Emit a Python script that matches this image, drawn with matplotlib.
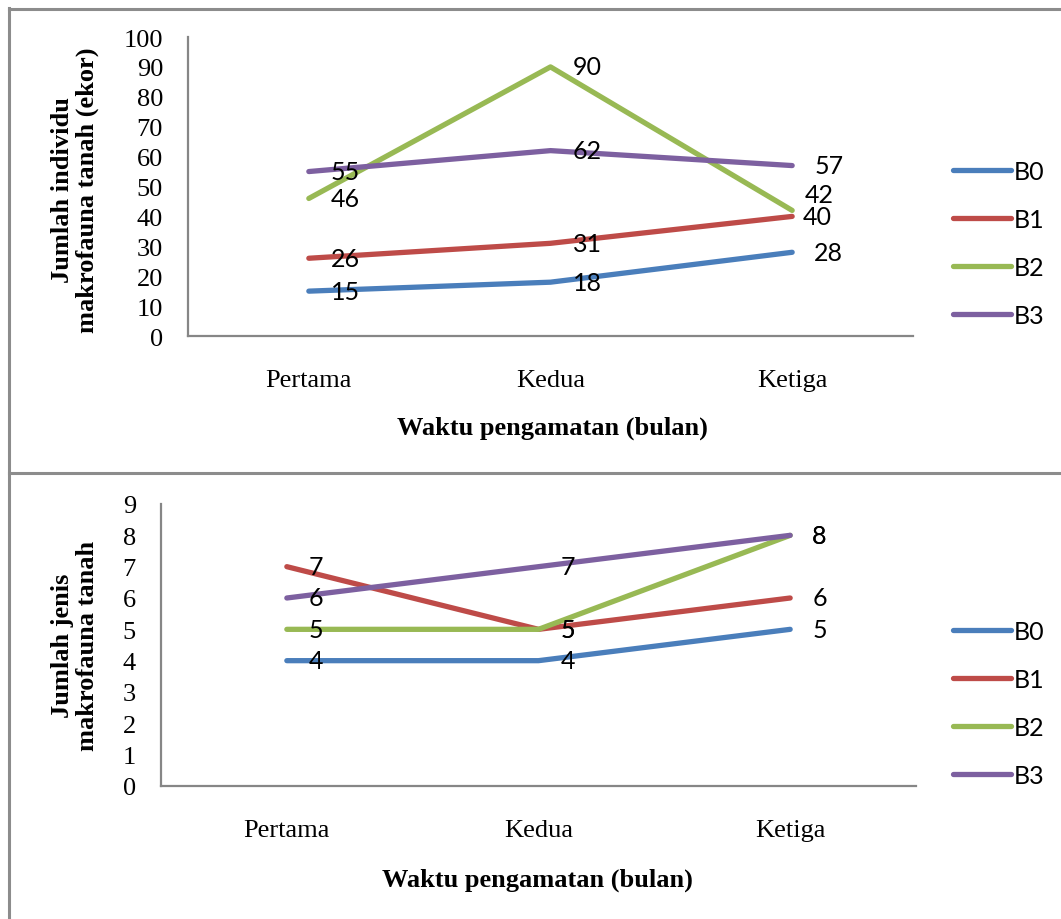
import matplotlib.pyplot as plt
from matplotlib.lines import Line2D

months = ['Pertama', 'Kedua', 'Ketiga']
series = ['B0', 'B1', 'B2', 'B3']
colors = ['#4A7EBB', '#BE4B48', '#98B954', '#7D60A0']

# jumlah individu (ekor)
individu_b0 = [15, 18, 28]
individu_b1 = [26, 31, 40]
individu_b2 = [46, 90, 42]
individu_b3 = [55, 62, 57]

# jumlah jenis
jenis_b0 = [4, 4, 5]
jenis_b1 = [7, 5, 6]
jenis_b2 = [5, 5, 8]
jenis_b3 = [6, 7, 8]

individu = [individu_b0, individu_b1, individu_b2, individu_b3]
jenis = [jenis_b0, jenis_b1, jenis_b2, jenis_b3]

W, H = 1061, 920
fig = plt.figure(figsize=(W / 100, H / 100), dpi=100)

serif = 'Liberation Serif'
sans = 'Lato'
fs = 19      # serif text (ticks, titles)
fs_lab = 18  # data labels and legend


def px_axes(left, right, top, bottom):
    return fig.add_axes([left / W, 1 - bottom / H, (right - left) / W, (bottom - top) / H])


def draw_panel(ax, data, ymax, step, label_fix, xlab_y, xlab_x, ylab, ylab_y, leg_y):
    x = range(len(months))
    for name, vals, c in zip(series, data, colors):
        ax.plot(x, vals, color=c, lw=3.8, solid_capstyle='round',
                solid_joinstyle='round', label=name)
    for si, vals in enumerate(data):
        for i, v in enumerate(vals):
            dx, dy = label_fix.get((si, i), (22, 0))
            ax.annotate(str(v), (i, v), xytext=(dx, dy), textcoords='offset pixels',
                        ha='left', va='center', fontsize=fs_lab, family=sans)
    ax.set_xlim(-0.5, len(months) - 0.5)
    ax.set_ylim(0, ymax)
    ax.set_yticks(range(0, ymax + 1, step))
    ax.set_xticks(list(x))
    ax.set_xticklabels(months)
    for s in ['top', 'right']:
        ax.spines[s].set_visible(False)
    for s in ['left', 'bottom']:
        ax.spines[s].set_color('#868686')
        ax.spines[s].set_linewidth(1.6)
    ax.tick_params(length=0, labelsize=fs)
    ax.tick_params(axis='y', pad=18)
    ax.tick_params(axis='x', pad=24)
    for t in ax.get_xticklabels() + ax.get_yticklabels():
        t.set_family(serif)
    fig.text(xlab_x / W, 1 - xlab_y / H, 'Waktu pengamatan (bulan)', ha='center',
             va='center', fontsize=fs, family=serif, fontweight='bold')
    fig.text(75 / W, 1 - ylab_y / H, ylab, rotation=90, ha='center', va='center',
             multialignment='center', fontsize=fs, family=serif, fontweight='bold',
             linespacing=1.12)
    ax.legend(loc='center left', bbox_to_anchor=(953 / W, 1 - leg_y / H),
              bbox_transform=fig.transFigure, frameon=False, borderpad=0,
              borderaxespad=0, handlelength=2.3, handletextpad=0.15,
              labelspacing=1.0, prop={'family': sans, 'size': fs_lab})


ax1 = px_axes(188, 913, 38, 337)
draw_panel(ax1, individu, 100, 10, {(2, 2): (13, 16), (1, 2): (11, 0)},
           428, 552, 'Jumlah individu\nmakrofauna tanah (ekor)', 190, 244)

ax2 = px_axes(161, 916, 505, 787)
draw_panel(ax2, jenis, 9, 1, {}, 880, 537, 'Jumlah jenis\nmakrofauna tanah', 646, 704)

# table-like frame around the two charts
grey = '#8C8C8C'
fig.add_artist(Line2D([9 / W, 9 / W], [0, 1 - 9 / H], color=grey, lw=2.2))
fig.add_artist(Line2D([9 / W, 1], [1 - 9.5 / H, 1 - 9.5 / H], color=grey, lw=2.2))
fig.add_artist(Line2D([9 / W, 1], [1 - 474 / H, 1 - 474 / H], color=grey, lw=2.2))

fig.savefig('out.png', dpi=100)
